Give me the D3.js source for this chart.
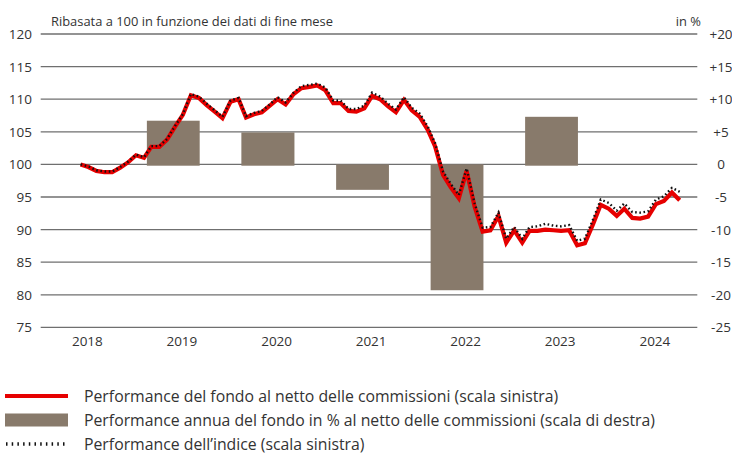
<!DOCTYPE html>
<html>
<head>
<meta charset="utf-8">
<script src="https://cdn.jsdelivr.net/npm/d3@7"></script>
<style>
  html, body { margin: 0; padding: 0; background: #fff; }
  svg { display: block; }
  text { font-family: "Open Sans", "Noto Sans", sans-serif; fill: #333; }
</style>
</head>
<body>
<svg id="chart" width="732" height="455"></svg>
<script>
// ---- Data ----
const startMonth = new Date(2018, 5, 1); // end of May 2018 (first observation)
const fundValues = [
  100.0, 99.6, 99.0, 98.8, 98.8, 99.5, 100.3, 101.4, 101.0, 102.7, 102.7, 103.8,
  105.8, 107.6, 110.6, 110.2, 109.1, 108.1, 107.1, 109.6, 110.0, 107.2, 107.7, 108.0,
  109.0, 110.0, 109.2, 110.8, 111.7, 111.9, 112.1, 111.4, 109.4, 109.4, 108.2, 108.1,
  108.6, 110.5, 110.0, 108.9, 108.0, 109.9, 108.3, 107.3, 105.3, 102.8, 98.4, 96.5,
  94.8, 99.0, 93.5, 89.7, 89.9, 92.1, 88.0, 89.9, 88.0, 89.8, 89.8, 90.0,
  89.9, 89.8, 89.9, 87.6, 87.9, 90.8, 93.8, 93.2, 92.1, 93.2, 91.8, 91.7,
  92.0, 93.9, 94.4, 95.7, 94.5
];
const indexValues = [
  100.0, 99.7, 99.1, 98.9, 98.9, 99.6, 100.4, 101.5, 101.1, 102.8, 102.8, 103.9,
  105.9, 107.7, 110.8, 110.4, 109.3, 108.3, 107.3, 109.8, 110.2, 107.4, 107.9, 108.2,
  109.2, 110.3, 109.5, 111.0, 112.0, 112.2, 112.4, 111.8, 109.8, 109.8, 108.5, 108.5,
  109.0, 111.0, 110.4, 109.3, 108.4, 110.3, 108.7, 107.8, 105.8, 103.3, 98.9, 97.0,
  95.3, 99.4, 94.0, 90.3, 90.4, 92.6, 88.6, 90.4, 88.6, 90.4, 90.5, 90.9,
  90.6, 90.5, 90.7, 88.3, 88.6, 91.5, 94.6, 94.1, 92.9, 94.0, 92.7, 92.6,
  92.8, 94.6, 95.1, 96.4, 95.8
];
const barYears = [2019, 2020, 2021, 2022, 2023];
const barValues = [6.7, 4.9, -3.9, -19.3, 7.3];
const yearLabels = [2018, 2019, 2020, 2021, 2022, 2023, 2024];
const leftTicks = [75, 80, 85, 90, 95, 100, 105, 110, 115, 120];
const rightTicks = [-25, -20, -15, -10, -5, 0, 5, 10, 15, 20];
const rightTickLabels = ["-25", "-20", "-15", "-10", "-5", "0", "+5", "+10", "+15", "+20"];
const titleLeft = "Ribasata a 100 in funzione dei dati di fine mese";
const titleRight = "in %";
const legendLabels = [
  "Performance del fondo al netto delle commissioni (scala sinistra)",
  "Performance annua del fondo in % al netto delle commissioni (scala di destra)",
  "Performance dell\u2019indice (scala sinistra)"
];

// ---- Layout ----
const svg = d3.select("#chart");
const gridX0 = 40.7, gridX1 = 697.3;
const plotTop = 34, plotBottom = 327.4;

const x = d3.scaleTime()
  .domain([new Date(2018, 0, 1), new Date(2025, 0, 1)])
  .range([41.5, 703.5]);
const yL = d3.scaleLinear().domain([75, 120]).range([plotBottom, plotTop]);
const yR = d3.scaleLinear().domain([-25, 20]).range([plotBottom, plotTop]);

const dates = fundValues.map((_, i) => d3.timeMonth.offset(startMonth, i));

// gridlines
svg.append("g").selectAll("line").data(leftTicks).join("line")
  .attr("x1", gridX0).attr("x2", gridX1)
  .attr("y1", d => yL(d)).attr("y2", d => yL(d))
  .attr("stroke", "#6f6f6f").attr("stroke-width", 1.3);

// left tick labels
svg.append("g").selectAll("text").data(leftTicks).join("text")
  .attr("x", 32).attr("y", d => yL(d))
  .attr("text-anchor", "end").attr("dominant-baseline", "central")
  .style("font-size", "13.5px").text(d => d);

// right tick labels
svg.append("g").selectAll("text").data(rightTicks).join("text")
  .attr("x", 721).attr("y", d => yR(d))
  .attr("text-anchor", "middle").attr("dominant-baseline", "central")
  .style("font-size", "13.5px").text((d, i) => rightTickLabels[i]);

// x labels
svg.append("g").selectAll("text").data(yearLabels).join("text")
  .attr("x", d => x(new Date(d, 6, 1)) - 1).attr("y", 346)
  .attr("text-anchor", "middle")
  .style("font-size", "13.5px").text(d => d);

// titles
svg.append("text").attr("x", 51).attr("y", 26).style("font-size", "12.9px").text(titleLeft);
svg.append("text").attr("x", 701).attr("y", 26).attr("text-anchor", "end").style("font-size", "12.9px").text(titleRight);

// bars
svg.append("g").selectAll("rect").data(barYears).join("rect")
  .attr("x", d => x(new Date(d, 1, 12)))
  .attr("width", d => x(new Date(d, 8, 4)) - x(new Date(d, 1, 12)))
  .attr("y", (d, i) => yR(Math.max(0, barValues[i])))
  .attr("height", (d, i) => Math.abs(yR(barValues[i]) - yR(0)) + (barValues[i] > 0 ? 1.3 : 0))
  .attr("fill", "#887a6b");

// fund line
const lineGen = d3.line().x(d => x(d[0])).y(d => yL(d[1]));
svg.append("path")
  .datum(dates.map((d, i) => [d, fundValues[i]]))
  .attr("d", lineGen)
  .attr("fill", "none").attr("stroke", "#e60000").attr("stroke-width", 4.2)
  .attr("stroke-linejoin", "miter");

// index line
svg.append("path")
  .datum(dates.map((d, i) => [d, indexValues[i]]))
  .attr("d", lineGen)
  .attr("fill", "none").attr("stroke", "#111").attr("stroke-width", 2.4)
  .attr("stroke-dasharray", "1.6,2.6");

// legend
const lg = svg.append("g");
const rows = [396, 420, 444];
lg.append("line").attr("x1", 5).attr("x2", 68).attr("y1", rows[0]).attr("y2", rows[0])
  .attr("stroke", "#e60000").attr("stroke-width", 4);
lg.append("rect").attr("x", 5).attr("y", rows[1] - 6.5).attr("width", 63).attr("height", 13)
  .attr("fill", "#887a6b");
lg.append("line").attr("x1", 6).attr("x2", 68).attr("y1", rows[2]).attr("y2", rows[2])
  .attr("stroke", "#111").attr("stroke-width", 3.5).attr("stroke-dasharray", "1.5,4.2");
lg.selectAll("text.leg").data(legendLabels).join("text")
  .attr("class", "leg")
  .attr("x", 84).attr("y", (d, i) => rows[i])
  .attr("dominant-baseline", "central")
  .style("font-size", "15.8px").text(d => d);
</script>
</body>
</html>
